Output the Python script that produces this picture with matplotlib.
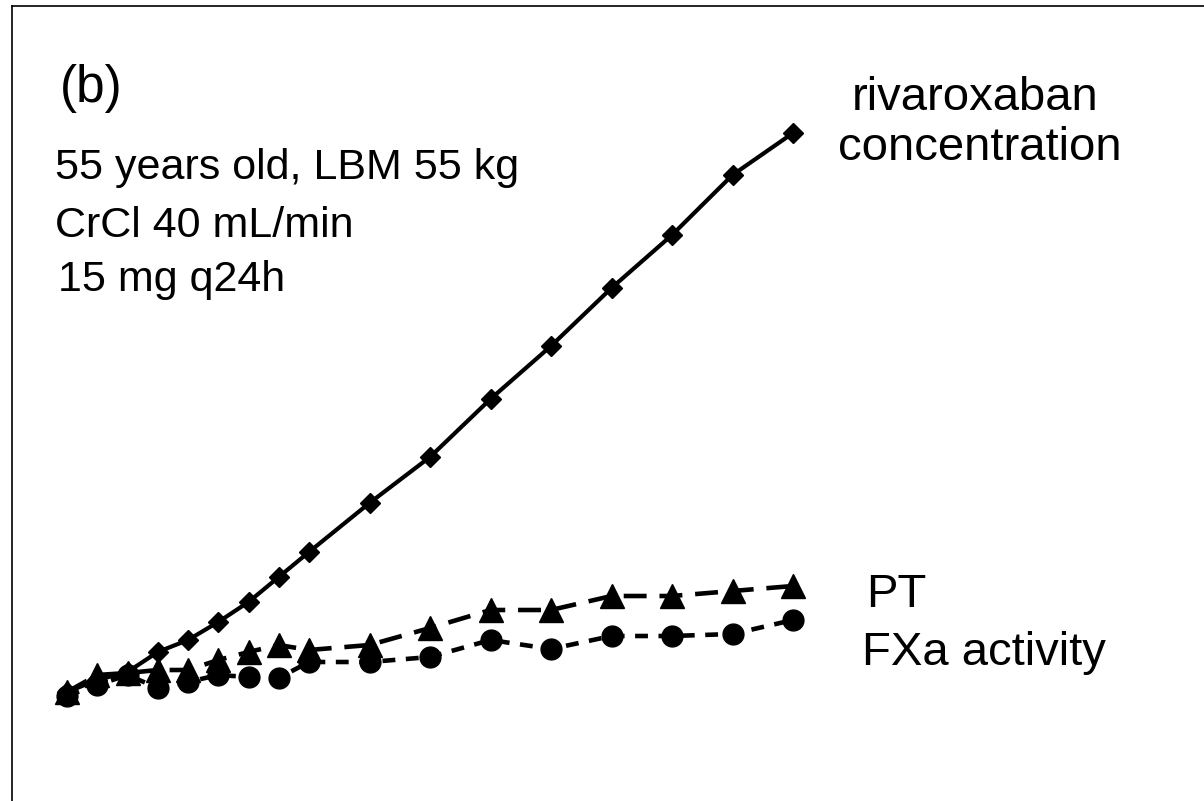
import numpy as np
import matplotlib
matplotlib.use("Agg")
import matplotlib.pyplot as plt
from matplotlib.lines import Line2D

plt.rcParams['font.family'] = ['Liberation Sans', 'DejaVu Sans']

# sampling times (h) and the three curves (arbitrary units)
les_t = [0, 1, 2, 3, 4, 5, 6, 7, 8, 10, 12, 14, 16, 18, 20, 22, 24]
conc = [1.6, 4, 5.6, 9.6, 12, 15.6, 19.6, 24.6, 29.6, 39.4, 48.6, 60.2,
        70.8, 82.4, 93, 105, 113.4]
pt = [1.6, 5, 5.4, 6, 6, 8, 9.6, 11, 10, 11, 14.4, 18, 18, 20.8, 20.8,
      21.8, 22.8]
fxa = [0.8, 3, 5, 2.4, 3.6, 5, 4.6, 4.4, 7.6, 7.6, 8.6, 12, 10.2, 12.8,
       12.8, 13.2, 16]

W, H = 1204, 801
dx = 30.25  # pixels par heure
fig = plt.figure(figsize=(W / 100, H / 100), dpi=100)
ax = fig.add_axes([0, 0, 1, 1])
ax.set_xlim(-67 / dx, (W - 67) / dx)
ax.set_ylim(-(H - 700) / 5, 700 / 5)
ax.axis('off')

ax.plot(les_t, conc, color='black', lw=3, marker='D', ms=10, zorder=3)
ax.plot(les_t, pt, color='black', lw=3.3, ls=(0, (5, 2.8)), marker='^', ms=17,
        zorder=4)
ax.plot(les_t, fxa, color='black', lw=3.3, ls=(0, (2.8, 2.3)), marker='o', ms=15,
        zorder=2)

# cadre
fig.add_artist(Line2D([12 / W, 12 / W], [0, 1 - 6 / H], color='black', lw=1.2))
fig.add_artist(Line2D([12 / W, 1], [1 - 6 / H, 1 - 6 / H], color='black', lw=1.2))

def texte(x, y, s, taille):
    fig.text(x / W, 1 - y / H, s, fontsize=taille, va='baseline', ha='left')

texte(60, 102, "(b)", 37)
texte(55, 179, "55 years old, LBM 55 kg", 31)
texte(55, 237, "CrCl 40 mL/min", 31)
texte(58, 291, "15 mg q24h", 31)
texte(852, 110, "rivaroxaban", 34)
texte(838, 160, "concentration", 34)
texte(866, 607, "PT", 34)
texte(862, 665, "FXa activity", 34)

fig.savefig("out.png", dpi=100)
